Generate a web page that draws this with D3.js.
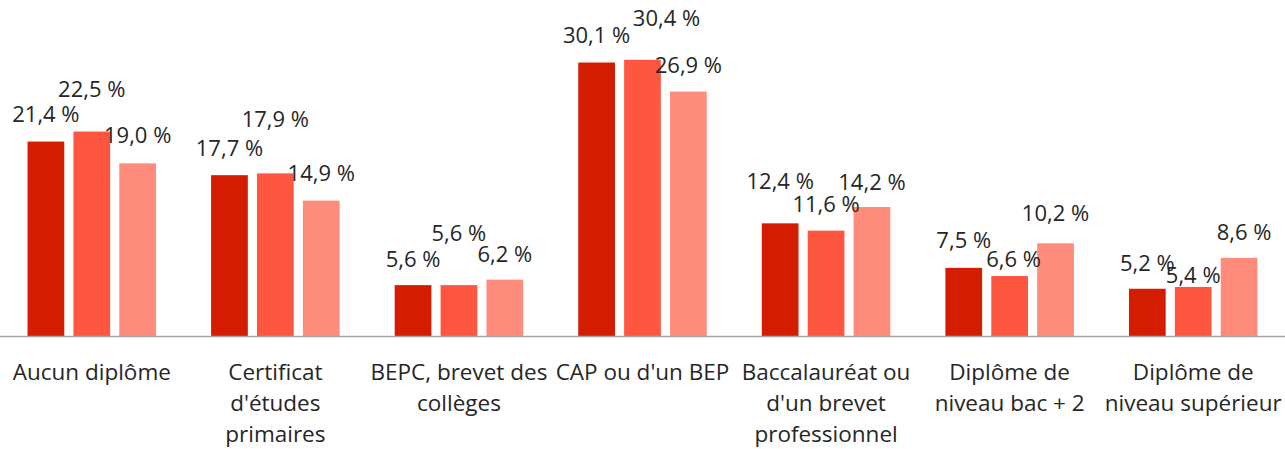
<!DOCTYPE html>
<meta charset="utf-8">
<script src="https://d3js.org/d3.v7.min.js"></script>
<style>
  body { margin: 0; background: #fff; }
  svg { display: block; }
  text { font-family: "Open Sans", sans-serif; fill: #262626; }
  .value { font-size: 22px; }
  .cat { font-size: 22.5px; }
</style>
<body>
<div id="chart"></div>
<script>
// categories (tick labels, one entry per line)
var categories = ["Aucun diplôme", "Certificat d'études primaires", "BEPC, brevet des collèges",
  "CAP ou d'un BEP", "Baccalauréat ou d'un brevet professionnel",
  "Diplôme de niveau bac + 2", "Diplôme de niveau supérieur"];
var tickLines = [
  ["Aucun diplôme"],
  ["Certificat", "d'études", "primaires"],
  ["BEPC, brevet des", "collèges"],
  ["CAP ou d'un BEP"],
  ["Baccalauréat ou", "d'un brevet", "professionnel"],
  ["Diplôme de", "niveau bac + 2"],
  ["Diplôme de", "niveau supérieur"]
];

// series values (%)
var series = ["s1", "s2", "s3"];
var serie1 = [21.4, 17.7, 5.6, 30.1, 12.4, 7.5, 5.2];
var serie2 = [22.5, 17.9, 5.6, 30.4, 11.6, 6.6, 5.4];
var serie3 = [19.0, 14.9, 6.2, 26.9, 14.2, 10.2, 8.6];
var colors = ["#d41c00", "#ff5640", "#ff8b7a"];

// label nudges (dx, dy above bar top), like excel's overlap avoidance
var nudges = [
  [[0, -20], [0, -35], [0, -20]],
  [[0, -19], [0, -46], [0, -20]],
  [[0, -18], [0, -44], [0, -18]],
  [[0, -20], [24, -34], [0, -19]],
  [[0, -34], [0, -19], [0, -17]],
  [[0, -20], [4, -9], [0, -22]],
  [[0, -18], [0, -4], [5, -18]]
];

var W = 1285, H = 449;
var baseline = 336, top_ = 18;

var svg = d3.select("#chart").append("svg")
  .attr("width", W).attr("height", H);

var x0 = d3.scaleBand().domain(categories).range([0, W]).padding(0);
var x1 = d3.scaleBand().domain(series).range([0, x0.bandwidth()])
  .paddingInner(0.2).paddingOuter(0.6);
var y = d3.scaleLinear().domain([0, 35]).range([baseline, top_]);

var values = [serie1, serie2, serie3];
var data = [];
categories.forEach(function(c, i) {
  series.forEach(function(s, j) {
    data.push({cat: c, ci: i, s: s, sj: j, v: values[j][i]});
  });
});

// bars
svg.append("g").selectAll("rect")
  .data(data).enter().append("rect")
    .attr("x", function(d) { return x0(d.cat) + x1(d.s); })
    .attr("y", function(d) { return y(d.v); })
    .attr("width", x1.bandwidth())
    .attr("height", function(d) { return y(0) - y(d.v); })
    .attr("fill", function(d) { return colors[d.sj]; });

// x axis line
svg.append("line")
  .attr("x1", 0).attr("x2", W)
  .attr("y1", baseline + 0.5).attr("y2", baseline + 0.5)
  .attr("stroke", "#a6a6a6").attr("stroke-width", 1.5);

// value labels
svg.append("g").selectAll("text")
  .data(data).enter().append("text")
    .attr("class", "value")
    .attr("text-anchor", "middle")
    .attr("x", function(d) { return x0(d.cat) + x1(d.s) + x1.bandwidth() / 2 + nudges[d.ci][d.sj][0]; })
    .attr("y", function(d) { return y(d.v) + nudges[d.ci][d.sj][1]; })
    .text(function(d) { return d.v.toFixed(1).replace(".", ",") + "\u00a0%"; });

// category labels
var cats = svg.append("g").selectAll("text")
  .data(categories).enter().append("text")
    .attr("class", "cat")
    .attr("text-anchor", "middle")
    .attr("x", function(d) { return x0(d) + x0.bandwidth() / 2; })
    .attr("y", 380);
cats.selectAll("tspan")
  .data(function(d, i) { return tickLines[i]; })
  .enter().append("tspan")
    .attr("x", function() { var p = this.parentNode; return p.getAttribute("x"); })
    .attr("dy", function(d, i) { return i === 0 ? 0 : 31; })
    .text(function(d) { return d; });
</script>
</body>
